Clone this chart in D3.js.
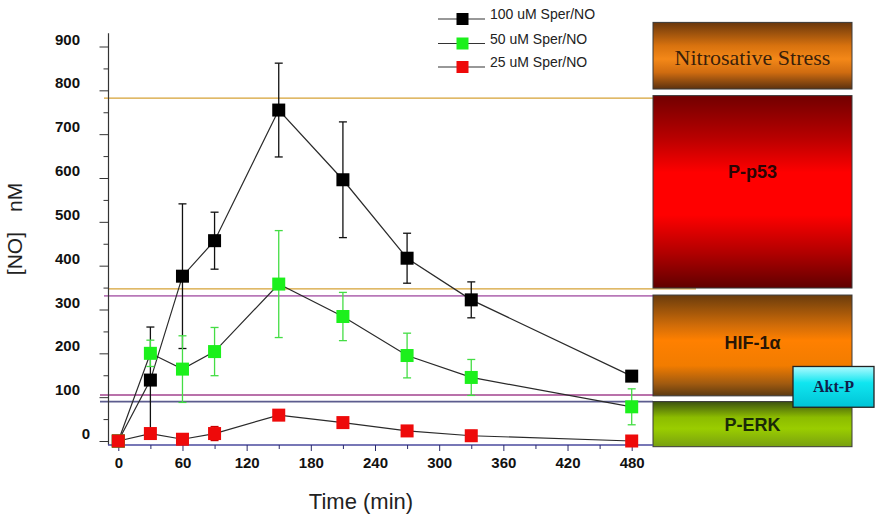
<!DOCTYPE html>
<html><head><meta charset="utf-8">
<script src="https://cdn.jsdelivr.net/npm/d3@7"></script>
<style>
html,body{margin:0;padding:0;background:#fff;}
svg{display:block;font-family:"Liberation Sans",Arial,sans-serif;}
</style></head>
<body>
<svg id="chart" width="880" height="522"></svg>
<script>
// ---- data ----
const times = [0, 30, 60, 90, 150, 210, 270, 330, 480];
const series100 = [0, 139, 376, 457, 755, 596, 417, 322, 148];
const err100    = [0, 121, 165, 65, 107, 132, 57, 41, 0];
const series50  = [0, 200, 164, 204, 358, 284, 195, 145, 78];
const err50     = [0, 30, 76, 55, 122, 55, 51, 41, 41];
const series25  = [0, 17, 4, 17, 59, 42, 23, 12, 0];
const err25     = [0, 0, 0, 16, 0, 0, 0, 12, 0];
const seriesNames = ["100 uM Sper/NO", "50 uM Sper/NO", "25 uM Sper/NO"];
const yTickValues = [0, 100, 200, 300, 400, 500, 600, 700, 800, 900];
const xTickValues = [0, 60, 120, 180, 240, 300, 360, 420, 480];
const thresholds = [782, 347, 331, 105, 90];
const bandNames  = ["Nitrosative Stress", "P-p53", "HIF-1α", "P-ERK"];
const bandTop    = [955, 788, 333, 90];
const bandBottom = [803, 349, 103, -13];
const bandLabelAt = [876, 614, 224, 37];
const aktRange   = [170, 77];
const aktLabel   = "Akt-P";

// ---- setup ----
const svg = d3.select("#chart");
const x = d3.scaleLinear().domain([0, 480]).range([118.3, 631.7]);
const y = d3.scaleLinear().domain([0, 900]).range([441, 46.5]);

const defs = svg.append("defs");
function grad(id, stops) {
  const g = defs.append("linearGradient").attr("id", id)
    .attr("x1", 0).attr("y1", 0).attr("x2", 0).attr("y2", 1);
  stops.forEach(s => g.append("stop").attr("offset", s[0]).attr("stop-color", s[1]));
}
grad("gNitro", [[0, "#6a370c"], [0.35, "#d8720e"], [0.55, "#f48818"], [0.75, "#d06c10"], [1, "#5c3210"]]);
grad("gP53", [[0, "#720000"], [0.22, "#b80000"], [0.4, "#ff0000"], [0.62, "#ff0000"], [0.82, "#b00000"], [1, "#600000"]]);
grad("gHIF", [[0, "#6a3c0c"], [0.3, "#d06c08"], [0.45, "#ff8000"], [0.7, "#f27c00"], [0.88, "#a05a10"], [1, "#5c3a10"]]);
grad("gERK", [[0, "#3c5210"], [0.35, "#8cbc00"], [0.6, "#9acd00"], [1, "#78a010"]]);
grad("gAkt", [[0, "#b0faff"], [0.4, "#10e6f0"], [1, "#00c4d6"]]);
const bandFills = ["url(#gNitro)", "url(#gP53)", "url(#gHIF)", "url(#gERK)"];
const bandText = ["#3a1f0a", "#2a0505", "#2a1606", "#1a2a08"];

// ---- threshold lines ----
const thrColors = ["#d6a236", "#d6a236", "#b878b8", "#a2428e", "#5c5c8e"];
const thrX1 = [104, 108, 104, 100, 100];
const thrX2 = [653, 696, 653, 653, 653];
const thrW = [1.3, 1.3, 1.8, 1.3, 1.8];
svg.append("g").selectAll("line").data(thresholds).join("line")
  .attr("x1", (d, i) => thrX1[i]).attr("x2", (d, i) => thrX2[i])
  .attr("y1", d => y(d)).attr("y2", d => y(d))
  .attr("stroke", (d, i) => thrColors[i]).attr("stroke-width", (d, i) => thrW[i]);

// ---- bands ----
const bandG = svg.append("g");
bandNames.forEach((n, i) => {
  bandG.append("rect").attr("x", 653).attr("width", 199)
    .attr("y", y(bandTop[i])).attr("height", y(bandBottom[i]) - y(bandTop[i]))
    .attr("fill", bandFills[i]).attr("stroke", "#3a3a3a").attr("stroke-width", 1);
  const t = bandG.append("text").attr("x", 752.5).attr("y", y(bandLabelAt[i]))
    .attr("text-anchor", "middle").attr("dominant-baseline", "central")
    .attr("fill", bandText[i]).text(n);
  if (i === 0) t.attr("font-family", "'Liberation Serif','Times New Roman',serif").attr("font-size", 22);
  else t.attr("font-weight", "bold").attr("font-size", 18);
});
bandG.append("rect").attr("x", 793).attr("width", 81)
  .attr("y", y(aktRange[0])).attr("height", y(aktRange[1]) - y(aktRange[0]))
  .attr("fill", "url(#gAkt)").attr("stroke", "#222").attr("stroke-width", 1.3);
bandG.append("text").attr("x", 833.5).attr("y", (y(aktRange[0]) + y(aktRange[1])) / 2)
  .attr("text-anchor", "middle").attr("dominant-baseline", "central")
  .attr("font-family", "'Liberation Serif','Times New Roman',serif")
  .attr("font-weight", "bold").attr("font-size", 16).attr("fill", "#10204a").text(aktLabel);

// ---- axes ----
svg.append("line").attr("x1", 108.5).attr("x2", 108.5).attr("y1", y(-9)).attr("y2", y(930))
  .attr("stroke", "#333").attr("stroke-width", 1.2);
svg.append("line").attr("x1", 108).attr("x2", 653).attr("y1", 445).attr("y2", 445)
  .attr("stroke", "#4a4a9e").attr("stroke-width", 1.3);

const yAx = svg.append("g").attr("transform", "translate(108.5,0)")
  .call(d3.axisLeft(y).tickValues(yTickValues).tickSize(9).tickFormat(d3.format("d")));
const yMin = svg.append("g").attr("transform", "translate(108.5,0)")
  .call(d3.axisLeft(y).tickValues(d3.range(50, 901, 100)).tickSize(5).tickFormat(""));
[yAx, yMin].forEach(g => { g.select(".domain").remove(); g.selectAll("line").attr("stroke", "#333"); });
yAx.selectAll("text").attr("x", d => d === 0 ? -18.5 : -28.5).attr("dy", -2.5)
  .attr("font-size", 15).attr("font-weight", "bold").attr("fill", "#111")
  .attr("font-family", "'Liberation Sans',Arial,sans-serif");

const xAx = svg.append("g").attr("transform", "translate(0,445)")
  .call(d3.axisBottom(x).tickValues(xTickValues).tickSize(6).tickFormat(d3.format("d")));
const xMin = svg.append("g").attr("transform", "translate(0,445)")
  .call(d3.axisBottom(x).tickValues(d3.range(30, 481, 60)).tickSize(4).tickFormat(""));
[xAx, xMin].forEach(g => { g.select(".domain").remove(); g.selectAll("line").attr("stroke", "#2a2a6a"); });
xAx.selectAll("text").attr("y", 23).attr("dy", 0)
  .attr("font-size", 15).attr("font-weight", "bold").attr("fill", "#111")
  .attr("font-family", "'Liberation Sans',Arial,sans-serif");

// axis titles
svg.append("text").attr("x", 361).attr("y", 509).attr("text-anchor", "middle")
  .attr("font-size", 22).attr("fill", "#222").text("Time (min)");
const yt = svg.append("text").attr("transform", "translate(22,229) rotate(-90)")
  .attr("text-anchor", "middle").attr("font-size", 21).attr("fill", "#222");
yt.append("tspan").text("[NO]");
yt.append("tspan").attr("dx", 20).text("nM");

// ---- series ----
const allSeries = [
  {vals: series100, err: err100, fill: "#000000", ecol: "#111"},
  {vals: series50, err: err50, fill: "#1cf01c", ecol: "#44dd44"},
  {vals: series25, err: err25, fill: "#ee0a0a", ecol: "#cc0000"}
];
const line = d3.line().x(d => x(d[0])).y(d => y(d[1]));
allSeries.forEach(s => {
  const pts = times.map((t, i) => [t, s.vals[i]]);
  svg.append("path").attr("d", line(pts)).attr("fill", "none")
    .attr("stroke", "#2a2a2a").attr("stroke-width", 1.2);
});
allSeries.forEach(s => {
  const g = svg.append("g");
  times.forEach((t, i) => {
    const e = s.err[i];
    if (e > 0) {
      const cx = x(t), t1 = y(s.vals[i] + e), b1 = y(s.vals[i] - e);
      g.append("line").attr("x1", cx).attr("x2", cx).attr("y1", t1).attr("y2", b1)
        .attr("stroke", s.ecol).attr("stroke-width", 1.3);
      [t1, b1].forEach(yy => g.append("line").attr("x1", cx - 4).attr("x2", cx + 4)
        .attr("y1", yy).attr("y2", yy).attr("stroke", s.ecol).attr("stroke-width", 1.3));
    }
  });
  g.selectAll("rect").data(times).join("rect")
    .attr("x", d => x(d) - 6.5).attr("y", (d, i) => y(s.vals[i]) - 6.5)
    .attr("width", 13).attr("height", 13).attr("fill", s.fill);
});

// ---- legend ----
const lg = svg.append("g");
const legY = [19, 43.5, 67];
seriesNames.forEach((n, i) => {
  lg.append("line").attr("x1", 438).attr("x2", 485).attr("y1", legY[i]).attr("y2", legY[i])
    .attr("stroke", "#333").attr("stroke-width", 1.2);
  lg.append("rect").attr("x", 462.5 - 6).attr("y", legY[i] - 6).attr("width", 12).attr("height", 12)
    .attr("fill", allSeries[i].fill);
  lg.append("text").attr("x", 490).attr("y", legY[i]).attr("font-size", 14).attr("fill", "#222").text(n);
});
</script>
</body></html>
